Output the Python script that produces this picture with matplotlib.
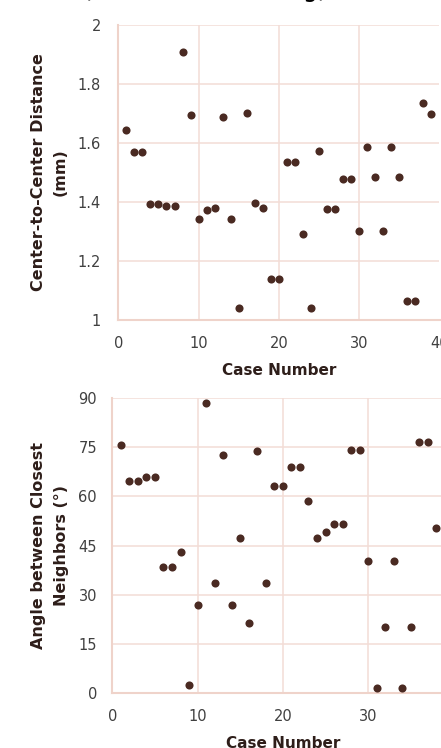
import matplotlib
matplotlib.use("Agg")
import matplotlib.pyplot as plt

# ---------------- data ----------------
cases_top = list(range(1, 40))
distance_mm = [1.645, 1.571, 1.571, 1.393, 1.393, 1.386, 1.386, 1.910, 1.695, 1.342,
               1.374, 1.381, 1.689, 1.342, 1.041, 1.702, 1.396, 1.381, 1.140, 1.140,
               1.536, 1.536, 1.290, 1.041, 1.574, 1.377, 1.377, 1.477, 1.477, 1.303,
               1.586, 1.484, 1.303, 1.586, 1.484, 1.063, 1.063, 1.736, 1.698]

cases_bottom = list(range(1, 40))
angle_deg = [75.6, 64.6, 64.6, 66.0, 66.0, 38.3, 38.3, 43.1, 2.4, 26.8,
             88.5, 33.4, 72.8, 26.8, 47.2, 21.4, 73.9, 33.4, 63.2, 63.2,
             69.1, 69.1, 58.5, 47.2, 49.1, 51.7, 51.7, 74.1, 74.1, 40.3,
             1.5, 20.1, 40.3, 1.5, 20.1, 76.6, 76.6, 50.4, 56.7]

x_ticks = [0, 10, 20, 30, 40]
top_yticks = [1, 1.2, 1.4, 1.6, 1.8, 2]
top_yticklabels = ["1", "1.2", "1.4", "1.6", "1.8", "2"]
bottom_yticks = [0, 15, 30, 45, 60, 75, 90]

title_text = "(Random Clustering)"
xlabel = "Case Number"
ylabel_top = "Center-to-Center Distance\n(mm)"
ylabel_bottom = "Angle between Closest\nNeighbors (\u00b0)"

# ---------------- style ----------------
W, H = 441, 748
fig = plt.figure(figsize=(W / 100, H / 100), dpi=100)
fig.patch.set_facecolor("white")

MARK = "#4a2a22"
GRID = "#f3ddd6"
SPINE = "#efd3ca"
TICKC = "#404040"
LABELC = "#2e1e1a"


def ax_at(l, r, t, b):
    return fig.add_axes([l / W, 1 - b / H, (r - l) / W, (b - t) / H])


def style(ax, ypad):
    for s in ["top", "right"]:
        ax.spines[s].set_visible(False)
    for s in ["left", "bottom"]:
        ax.spines[s].set_color(SPINE)
        ax.spines[s].set_linewidth(1.5)
    ax.grid(True, color=GRID, linewidth=1.1)
    ax.set_axisbelow(True)
    ax.tick_params(axis="both", length=0, labelsize=10.5, colors=TICKC)
    ax.tick_params(axis="x", pad=11.5)
    ax.tick_params(axis="y", pad=ypad)
    ax.set_xticks(x_ticks)
    ax.set_xlim(0, 40)


ax1 = ax_at(118.3, 439.5, 25, 320)
style(ax1, 12.5)
ax1.scatter(cases_top, distance_mm, s=34, color=MARK, zorder=3, clip_on=False,
            linewidths=0)
ax1.set_ylim(1, 2)
ax1.set_yticks(top_yticks)
ax1.set_yticklabels(top_yticklabels)
ax1.set_xlabel(xlabel, fontsize=11, fontweight="bold", color=LABELC, labelpad=9)
ax1.set_ylabel(ylabel_top, fontsize=11.5, fontweight="bold", color=LABELC,
               linespacing=1.6, labelpad=7)

ax2 = ax_at(112.3, 453.5, 398.3, 692.7)
style(ax2, 11)
ax2.scatter(cases_bottom, angle_deg, s=34, color=MARK, zorder=3, clip_on=False,
            linewidths=0)
ax2.set_ylim(0, 90)
ax2.set_yticks(bottom_yticks)
ax2.set_xlabel(xlabel, fontsize=11, fontweight="bold", color=LABELC, labelpad=9)
ax2.set_ylabel(ylabel_bottom, fontsize=11.5, fontweight="bold", color=LABELC,
               linespacing=1.6, labelpad=7)

fig.text(205 / W, 1 + 3 / H, title_text, ha="center", va="baseline",
         fontsize=17, color="black")

fig.savefig("out.png", dpi=100)
